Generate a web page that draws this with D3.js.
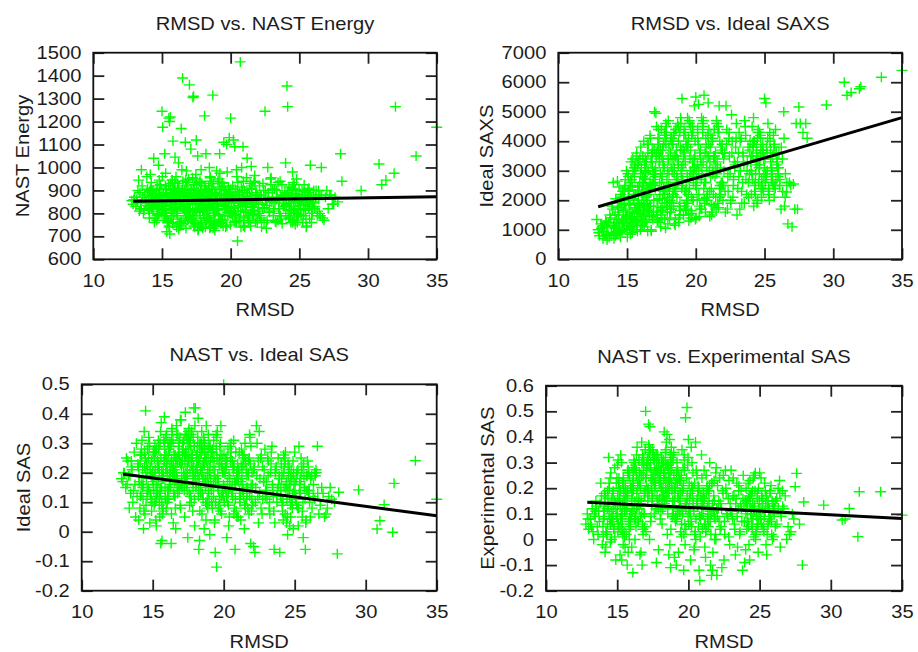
<!DOCTYPE html>
<html>
<head>
<meta charset="utf-8">
<script src="https://cdn.jsdelivr.net/npm/d3@7"></script>
<style>
  body { margin: 0; background: #fff; }
  text { font-family: "Liberation Sans", Arial, Helvetica, sans-serif; font-size: 17.5px; fill: #1c1c1c; }
</style>
</head>
<body>
<div id="chart"></div>
<script>
// RMSD of each model (shared by the four panels), grouped roughly by RMSD band
var rmsd = [
  12.8, 12.9, 13.0, 13.1, 13.25, 13.3, 13.45, 13.5, 13.6, 13.7,
  13.75, 13.85, 13.35, 13.55, 13.9, 13.15, 13.65, 13.4, 13.8, 13.95,
  14.0, 14.1, 14.2, 14.3, 14.4, 14.5, 14.6, 14.7, 14.8, 14.9,
  14.05, 14.25, 14.45, 14.65, 14.85, 14.15, 14.35, 14.55, 14.75, 14.95,
  14.12, 14.32, 14.52, 14.72, 14.92, 14.22, 14.42, 14.62, 14.82, 14.02,
  15.0, 15.1, 15.2, 15.3, 15.4, 15.5, 15.6, 15.7, 15.8, 15.9,
  15.05, 15.15, 15.25, 15.35, 15.45, 15.55, 15.65, 15.75, 15.85, 15.95,
  15.12, 15.32, 15.52, 15.72, 15.92, 15.02, 15.22, 15.42, 15.62, 15.82,
  15.17, 15.37, 15.57, 15.77, 15.97, 15.07, 15.27, 15.47, 15.67, 15.87,
  16.0, 16.1, 16.2, 16.3, 16.4, 16.5, 16.6, 16.7, 16.8, 16.9,
  16.05, 16.15, 16.25, 16.35, 16.45, 16.55, 16.65, 16.75, 16.85, 16.95,
  16.12, 16.32, 16.52, 16.72, 16.92, 16.02, 16.22, 16.42, 16.62, 16.82,
  16.17, 16.37, 16.57, 16.77, 16.97, 16.07, 16.27, 16.47, 16.67, 16.87,
  17.0, 17.1, 17.2, 17.3, 17.4, 17.5, 17.6, 17.7, 17.8, 17.9,
  17.05, 17.15, 17.25, 17.35, 17.45, 17.55, 17.65, 17.75, 17.85, 17.95,
  17.12, 17.32, 17.52, 17.72, 17.92, 17.02, 17.22, 17.42, 17.62, 17.82,
  17.17, 17.37, 17.57, 17.77, 17.97, 17.07, 17.27, 17.47, 17.67, 17.87,
  18.0, 18.1, 18.2, 18.3, 18.4, 18.5, 18.6, 18.7, 18.8, 18.9,
  18.05, 18.15, 18.25, 18.35, 18.45, 18.55, 18.65, 18.75, 18.85, 18.95,
  18.12, 18.32, 18.52, 18.72, 18.92, 18.02, 18.22, 18.42, 18.62, 18.82,
  18.17, 18.37, 18.57, 18.77, 18.97, 18.07, 18.27, 18.47, 18.67, 18.87,
  19.0, 19.1, 19.2, 19.3, 19.4, 19.5, 19.6, 19.7, 19.8, 19.9,
  19.05, 19.15, 19.25, 19.35, 19.45, 19.55, 19.65, 19.75, 19.85, 19.95,
  19.12, 19.32, 19.52, 19.72, 19.92, 19.02, 19.22, 19.42, 19.62, 19.82,
  19.17, 19.37, 19.57, 19.77, 19.97, 19.07, 19.27, 19.47, 19.67, 19.87,
  20.0, 20.1, 20.2, 20.3, 20.4, 20.5, 20.6, 20.7, 20.8, 20.9,
  20.05, 20.15, 20.25, 20.35, 20.45, 20.55, 20.65, 20.75, 20.85, 20.95,
  20.12, 20.32, 20.52, 20.72, 20.92, 20.02, 20.22, 20.42, 20.62, 20.82,
  21.0, 21.1, 21.2, 21.3, 21.4, 21.5, 21.6, 21.7, 21.8, 21.9,
  21.05, 21.15, 21.25, 21.35, 21.45, 21.55, 21.65, 21.75, 21.85, 21.95,
  21.12, 21.32, 21.52, 21.72, 21.92, 21.02, 21.22, 21.42, 21.62, 21.82,
  22.0, 22.1, 22.2, 22.3, 22.4, 22.5, 22.6, 22.7, 22.8, 22.9,
  22.05, 22.15, 22.25, 22.35, 22.45, 22.55, 22.65, 22.75, 22.85, 22.95,
  23.0, 23.1, 23.2, 23.3, 23.4, 23.5, 23.6, 23.7, 23.8, 23.9,
  23.05, 23.15, 23.25, 23.35, 23.45, 23.55, 23.65, 23.75, 23.85, 23.95,
  24.0, 24.1, 24.2, 24.3, 24.4, 24.5, 24.6, 24.7, 24.8, 24.9,
  24.05, 24.15, 24.25, 24.35, 24.45, 24.55, 24.65, 24.75, 24.85, 24.95,
  24.12, 24.32, 24.52, 24.72, 24.92, 24.02, 24.22, 24.42, 24.62, 24.82,
  25.0, 25.1, 25.2, 25.3, 25.4, 25.5, 25.6, 25.7, 25.8, 25.9,
  25.05, 25.15, 25.25, 25.35, 25.45, 25.55, 25.65, 25.75, 25.85, 25.95,
  26.0, 26.1, 26.3, 26.5, 26.8, 26.9, 27.2, 27.4, 26.05, 26.45,
  27.5, 27.6, 28.0, 28.1, 29.5, 30.8, 31.0, 31.3, 32.0, 33.5,
  35.0, 31.9, 26.4, 27.3, 27.8, 26.7, 27.0, 26.6, 27.1, 26.2,
  // second batch, mostly inside the dense core
  14.03, 14.13, 14.23, 14.33, 14.43, 14.53, 14.63, 14.73, 14.83, 14.93,
  14.58, 14.68, 14.78, 14.88, 14.98, 14.48, 14.38, 14.28, 14.18, 14.08,
  15.03, 15.13, 15.23, 15.33, 15.43, 15.53, 15.63, 15.73, 15.83, 15.93,
  15.08, 15.18, 15.28, 15.38, 15.48, 15.58, 15.68, 15.78, 15.88, 15.98,
  15.04, 15.24, 15.44, 15.64, 15.84, 15.14, 15.34, 15.54, 15.74, 15.94,
  16.03, 16.13, 16.23, 16.33, 16.43, 16.53, 16.63, 16.73, 16.83, 16.93,
  16.08, 16.18, 16.28, 16.38, 16.48, 16.58, 16.68, 16.78, 16.88, 16.98,
  16.04, 16.24, 16.44, 16.64, 16.84, 16.14, 16.34, 16.54, 16.74, 16.94,
  17.03, 17.13, 17.23, 17.33, 17.43, 17.53, 17.63, 17.73, 17.83, 17.93,
  17.08, 17.18, 17.28, 17.38, 17.48, 17.58, 17.68, 17.78, 17.88, 17.98,
  17.04, 17.24, 17.44, 17.64, 17.84, 17.14, 17.34, 17.54, 17.74, 17.94,
  18.03, 18.13, 18.23, 18.33, 18.43, 18.53, 18.63, 18.73, 18.83, 18.93,
  18.08, 18.18, 18.28, 18.38, 18.48, 18.58, 18.68, 18.78, 18.88, 18.98,
  18.04, 18.24, 18.44, 18.64, 18.84, 18.14, 18.34, 18.54, 18.74, 18.94,
  19.03, 19.13, 19.23, 19.33, 19.43, 19.53, 19.63, 19.73, 19.83, 19.93,
  19.08, 19.18, 19.28, 19.38, 19.48, 19.58, 19.68, 19.78, 19.88, 19.98,
  20.03, 20.13, 20.23, 20.33, 20.43, 20.53, 20.63, 20.73, 20.83, 20.93,
  20.08, 20.18, 20.28, 20.38, 20.48, 20.58, 20.68, 20.78, 20.88, 20.98,
  21.03, 21.13, 21.23, 21.33, 21.43, 21.53, 21.63, 21.73, 21.83, 21.93,
  21.08, 21.18, 21.28, 21.38, 21.48, 21.58, 21.68, 21.78, 21.88, 21.98,
  22.03, 22.13, 22.23, 22.33, 22.43, 22.53, 22.63, 22.73, 22.83, 22.93,
  23.03, 23.13, 23.23, 23.33, 23.43, 23.53, 23.63, 23.73, 23.83, 23.93,
  24.03, 24.13, 24.23, 24.33, 24.43, 24.53, 24.63, 24.73, 24.83, 24.93,
  24.08, 24.18, 24.28, 24.38, 24.48, 24.58, 24.68, 24.78, 24.88, 24.98,
  25.03, 25.13, 25.23, 25.33, 25.43, 25.53, 25.63, 25.73, 25.83, 25.93,
  25.08, 25.18, 25.28, 25.38, 25.48, 25.58, 25.68, 25.78, 25.88, 25.98,
  26.02, 26.12, 26.22, 26.32, 26.42, 26.52, 26.62, 12.95, 13.2, 13.5
];

var nastEnergy = [
  855, 840, 870, 830, 900, 945, 820, 990, 870, 815,
  880, 845, 810, 920, 960, 860, 800, 890, 835, 905,
  860, 800, 910, 840, 1040, 780, 880, 820, 945, 870,
  830, 890, 760, 920, 850, 970, 810, 875, 1010, 845,
  900, 825, 870, 795, 860, 935, 850, 770, 905, 815,
  1245, 880, 1060, 820, 760, 1215, 1220, 850, 1115, 900,
  1175, 830, 920, 720, 870, 1200, 790, 945, 860, 1045,
  850, 905, 740, 815, 880, 960, 800, 870, 930, 775,
  790, 860, 710, 900, 845, 835, 975, 765, 890, 820,
  880, 810, 1020, 760, 1170, 1390, 850, 1110, 920, 790,
  840, 930, 750, 870, 990, 820, 900, 735, 860, 950,
  800, 870, 940, 780, 845, 960, 730, 890, 815, 880,
  910, 760, 850, 985, 820, 740, 880, 830, 905, 770,
  1360, 1080, 860, 1310, 790, 1120, 1050, 880, 750, 930,
  820, 900, 1305, 760, 950, 840, 730, 875, 990, 810,
  885, 745, 925, 810, 860, 780, 955, 840, 725, 900,
  770, 860, 820, 940, 735, 890, 805, 970, 850, 760,
  870, 1225, 1060, 780, 920, 960, 830, 1315, 890, 750,
  810, 740, 900, 850, 1000, 770, 880, 930, 725, 845,
  865, 800, 955, 735, 880, 820, 760, 905, 840, 790,
  920, 780, 850, 745, 985, 860, 815, 735, 875, 800,
  880, 820, 1060, 760, 930, 1110, 850, 1100, 790, 1130,
  840, 950, 770, 905, 745, 870, 815, 980, 860, 800,
  795, 880, 920, 745, 860, 830, 975, 770, 900, 845,
  915, 760, 835, 880, 800, 940, 755, 865, 820, 890,
  1215, 860, 1120, 1090, 790, 680, 880, 1460, 1000, 1090,
  830, 920, 760, 880, 960, 810, 845, 740, 900, 785,
  870, 795, 935, 850, 745, 905, 820, 990, 770, 860,
  900, 840, 1040, 780, 870, 1005, 810, 940, 760, 880,
  830, 955, 790, 860, 745, 905, 825, 965, 850, 770,
  870, 760, 910, 815, 880, 740, 845, 930, 800, 890,
  860, 920, 780, 840, 900, 1245, 735, 1000, 810, 950,
  800, 875, 740, 930, 825, 860, 770, 890, 850, 955,
  850, 790, 905, 760, 870, 820, 940, 775, 880, 830,
  905, 820, 765, 860, 935, 800, 875, 755, 845, 890,
  1020, 1355, 860, 790, 900, 980, 820, 750, 950, 870,
  840, 1265, 915, 775, 860, 935, 805, 885, 760, 850,
  880, 815, 760, 905, 845, 790, 870, 830, 925, 800,
  860, 820, 900, 790, 870, 740, 840, 910, 1010, 800,
  835, 880, 760, 925, 815, 850, 890, 775, 860, 830,
  850, 820, 790, 880, 770, 870, 880, 840, 900, 800,
  840, 870, 1060, 940, 900, 1015, 925, 945, 1265, 1050,
  1175, 975, 900, 880, 850, 780, 900, 1000, 820, 870,
  850, 875, 820, 900, 840, 865, 790, 880, 830, 910,
  845, 800, 870, 925, 815, 860, 885, 835, 895, 780,
  830, 870, 790, 905, 850, 745, 880, 815, 865, 935,
  880, 805, 860, 770, 920, 840, 885, 755, 825, 895,
  815, 890, 760, 850, 905, 835, 780, 870, 945, 800,
  865, 790, 910, 830, 755, 880, 815, 945, 850, 775,
  800, 885, 840, 765, 900, 825, 870, 790, 935, 855,
  890, 760, 830, 875, 805, 920, 745, 860, 815, 880,
  840, 905, 770, 860, 815, 890, 750, 935, 825, 870,
  795, 855, 910, 740, 880, 820, 865, 780, 900, 835,
  870, 815, 755, 895, 845, 775, 925, 805, 860, 740,
  850, 780, 895, 820, 760, 875, 930, 800, 865, 745,
  905, 825, 770, 860, 800, 940, 845, 755, 885, 815,
  790, 870, 835, 910, 765, 850, 890, 740, 825, 875,
  860, 795, 905, 775, 850, 885, 740, 830, 915, 810,
  820, 880, 760, 935, 840, 790, 870, 805, 895, 750,
  875, 790, 850, 905, 765, 835, 890, 810, 860, 940,
  800, 870, 825, 760, 895, 845, 780, 915, 830, 870,
  850, 805, 890, 770, 865, 920, 795, 840, 880, 760,
  815, 875, 760, 905, 830, 850, 790, 935, 870, 810,
  845, 790, 880, 820, 760, 900, 835, 870, 805, 925,
  870, 810, 845, 900, 770, 855, 790, 925, 830, 880,
  835, 890, 780, 860, 815, 905, 770, 850, 880, 795,
  875, 800, 845, 760, 910, 830, 870, 785, 855, 900,
  850, 790, 880, 815, 860, 745, 905, 830, 870, 800,
  815, 870, 840, 895, 775, 855, 820, 880, 760, 845,
  870, 830, 900, 810, 860, 790, 880, 860, 850, 845
];

var idealSaxs = [
  1350, 1000, 800, 1200, 700, 950, 1300, 850, 1100, 750,
  1500, 900, 1150, 650, 1800, 1050, 1250, 800, 1400, 1700,
  2600, 1200, 850, 2650, 1500, 900, 2000, 1100, 2300, 1700,
  700, 1350, 1900, 1000, 2500, 800, 1600, 2200, 1250, 3000,
  1050, 1750, 750, 2100, 1400, 950, 2450, 1300, 1850, 1150,
  1000, 2800, 1600, 3300, 900, 2200, 1300, 3600, 1900, 2500,
  1400, 2100, 850, 2700, 1200, 3100, 1750, 950, 2350, 1550,
  2000, 1100, 3000, 1450, 2600, 750, 1850, 3400, 1250, 2250,
  1150, 2450, 1700, 3200, 1000, 2900, 1350, 2050, 3500, 1600,
  3800, 1200, 2600, 1700, 3300, 950, 2200, 4100, 1450, 2900,
  1900, 3500, 1100, 2700, 1600, 3900, 2350, 1000, 3100, 2000,
  2500, 1300, 3600, 1800, 2900, 1150, 4000, 2150, 1500, 3300,
  1650, 3000, 2400, 950, 3700, 1350, 2750, 1900, 4200, 2550,
  5000, 4950, 1300, 3800, 2200, 4400, 1700, 3100, 1050, 2700,
  2400, 1500, 4100, 3300, 1100, 2800, 3900, 1900, 4500, 2100,
  3500, 1250, 2600, 4300, 1800, 3000, 1400, 3700, 2300, 4600,
  1600, 3400, 2050, 4000, 1200, 2900, 3600, 1750, 2450, 4200,
  4700, 1400, 3200, 2100, 4300, 1150, 3700, 2600, 1800, 4800,
  2900, 1600, 4100, 2300, 1200, 3500, 2700, 4500, 1900, 3100,
  2000, 3900, 1350, 3300, 4600, 2500, 1700, 4200, 2800, 1500,
  3600, 2200, 4400, 1250, 3000, 1900, 4000, 2400, 3400, 1650,
  5450, 1500, 3600, 2400, 4800, 1300, 3000, 4200, 2000, 5200,
  2700, 4400, 1700, 3800, 2200, 4600, 1400, 3300, 2900, 4000,
  3500, 2000, 4700, 1550, 3100, 2500, 4300, 1900, 3700, 2600,
  1800, 3900, 2800, 4500, 1350, 3200, 2300, 4100, 1650, 3400,
  5500, 2000, 5250, 3600, 2700, 4300, 5560, 1600, 3100, 5300,
  2400, 4100, 1450, 3400, 2900, 4700, 1900, 3800, 2200, 4400,
  3200, 1700, 4500, 2600, 3900, 1400, 3000, 4800, 2050, 3500,
  2300, 4200, 1600, 3500, 2800, 4700, 1900, 5200, 3100, 2500,
  3800, 1500, 3000, 4400, 2100, 3300, 1750, 4000, 2600, 3600,
  1850, 3400, 4600, 2400, 3900, 1450, 2900, 3200, 4300, 2200,
  2500, 3600, 5200, 1700, 4100, 2900, 4900, 2100, 3300, 3800,
  3000, 1600, 4400, 2300, 3500, 1900, 4000, 2700, 3200, 4600,
  1500, 3600, 1700, 4100, 2600, 3200, 4500, 2200, 3800, 2900,
  2400, 4300, 3000, 1900, 3500, 4700, 2700, 3300, 2100, 4000,
  3300, 4500, 4800, 2500, 3800, 2000, 3100, 4200, 2700, 3600,
  2200, 3500, 4000, 2900, 1900, 4400, 3200, 2400, 3700, 2800,
  3900, 2600, 3400, 4100, 2300, 3000, 1800, 3600, 4300, 2500,
  5450, 5300, 3000, 2400, 4000, 2700, 3500, 2100, 4400, 3200,
  2600, 3800, 4600, 2000, 3300, 2900, 4200, 2500, 3600, 3100,
  2900, 2500, 3400, 2100, 2600, 2500, 1700, 1700, 3600, 1800,
  5160, 4600, 4600, 4100, 5230, 6000, 5560, 5650, 5850, 6170,
  6400, 5780, 5000, 4600, 4300, 1200, 1100, 2280, 2550, 1700,
  1100, 1500, 850, 1900, 1250, 2100, 950, 1650, 2400, 1350,
  1800, 2300, 1000, 2700, 1450, 1200, 1700, 900, 2050, 1150,
  1200, 1900, 2500, 1000, 3000, 1550, 2200, 1300, 3300, 1750,
  2300, 1050, 2700, 1600, 2000, 3200, 1150, 2450, 1800, 2900,
  1500, 2600, 1100, 3100, 1850, 2350, 1400, 2800, 1650, 3400,
  1400, 2800, 2000, 3400, 1250, 3000, 1800, 2500, 3700, 1600,
  2300, 1500, 3200, 2100, 3900, 1700, 2600, 3500, 1350, 2900,
  3100, 1850, 2450, 1450, 3600, 2150, 2950, 1650, 3300, 2700,
  2500, 3600, 1800, 4100, 2900, 1400, 3300, 2200, 3900, 1600,
  3100, 2000, 4400, 2600, 1500, 3700, 2350, 4200, 1900, 3400,
  2800, 3900, 1650, 3200, 2400, 4500, 2050, 3500, 1350, 3000,
  3400, 2500, 1700, 3900, 2900, 4400, 2100, 3200, 1500, 3700,
  2200, 4100, 3000, 1800, 3500, 2600, 4600, 1400, 3800, 2400,
  3800, 1900, 3100, 2700, 4300, 1600, 3400, 2300, 4000, 2900,
  2600, 4200, 3300, 1700, 3800, 2400, 4500, 2900, 2000, 3500,
  3700, 2300, 4000, 2800, 1500, 3400, 2100, 4300, 3100, 2500,
  3000, 4400, 2200, 3700, 1700, 3300, 2600, 4100, 2000, 3500,
  2700, 3900, 1800, 3200, 4600, 2400, 3600, 2100, 4200, 3000,
  3300, 2400, 4100, 1800, 3600, 2900, 4500, 2100, 3800, 2600,
  2800, 4000, 2200, 3500, 1700, 3100, 4300, 2500, 3700, 2000,
  3400, 2300, 3900, 2800, 4300, 2000, 3600, 2500, 3100, 4100,
  3300, 2800, 4000, 2300, 3600, 1900, 4200, 3000, 2600, 3700,
  3500, 2700, 4000, 2200, 3200, 4300, 2900, 3700, 2400, 3400,
  2900, 3800, 2300, 3300, 4100, 2600, 3500, 2100, 3900, 3100,
  3400, 2800, 4100, 2300, 3700, 3000, 2500, 3900, 2700, 3300,
  2900, 3600, 2200, 4300, 3100, 2600, 3800, 2400, 3400, 2800,
  3100, 2700, 3800, 2300, 4100, 2900, 2600, 900, 1100, 1250
];

var idealSas = [
  0.18, 0.17, 0.2, 0.15, 0.24, 0.19, 0.13, 0.22, 0.1, 0.27,
  0.16, 0.3, 0.08, 0.21, 0.12, 0.25, 0.14, 0.19, 0.05, 0.23,
  0.22, 0.08, 0.28, 0.15, 0.34, 0.41, 0.12, 0.25, 0.03, 0.19,
  0.17, 0.31, 0.06, 0.21, 0.13, 0.26, 0.01, 0.18, 0.29, 0.1,
  0.24, 0.11, 0.2, 0.32, 0.07, 0.16, 0.27, 0.14, 0.22, 0.04,
  0.2, 0.09, 0.27, 0.14, 0.31, 0.05, 0.37, 0.18, 0.24, 0.11,
  0.16, 0.29, 0.02, 0.22, 0.12, 0.34, -0.03, 0.19, 0.26, 0.08,
  0.25, 0.13, 0.3, 0.07, 0.21, 0.17, 0.04, 0.28, 0.15, 0.39,
  0.1, 0.23, -0.04, 0.18, 0.33, 0.27, 0.12, 0.2, 0.06, 0.15,
  0.22, 0.14, 0.3, -0.04, 0.19, 0.26, 0.08, 0.33, 0.16, 0.24,
  0.11, 0.28, 0.2, 0.35, 0.03, 0.17, 0.25, 0.13, 0.3, 0.38,
  0.27, 0.06, 0.21, 0.15, 0.32, 0.1, 0.23, 0.18, 0.01, 0.29,
  0.19, 0.34, 0.12, 0.25, 0.08, 0.3, 0.16, 0.22, 0.36, 0.14,
  0.38, 0.24, 0.31, 0.405, 0.17, 0.28, 0.09, 0.33, 0.21, 0.42,
  0.15, 0.3, 0.05, 0.26, 0.19, 0.35, 0.12, 0.23, 0.32, 0.02,
  0.27, 0.18, 0.34, 0.1, 0.29, 0.22, 0.14, 0.31, 0.25, 0.07,
  0.2, 0.33, 0.13, 0.26, 0.36, 0.16, 0.24, -0.02, 0.29, 0.19,
  0.42, 0.22, 0.385, -0.03, 0.27, 0.13, 0.31, 0.18, 0.09, 0.25,
  0.16, 0.3, -0.06, 0.21, 0.34, 0.11, 0.26, 0.04, 0.19, 0.29,
  0.24, 0.07, 0.28, 0.15, 0.33, 0.2, 0.12, 0.27, 0.01, 0.17,
  0.32, 0.14, 0.23, 0.36, 0.1, 0.26, 0.18, 0.06, 0.3, 0.21,
  0.2, 0.27, 0.08, 0.31, -0.07, -0.12, 0.16, 0.24, 0.36, 0.13,
  0.29, 0.1, 0.22, 0.03, 0.18, 0.34, 0.14, 0.26, 0.06, 0.2,
  0.15, 0.25, 0.32, 0.11, 0.21, -0.01, 0.28, 0.17, 0.08, 0.23,
  0.27, 0.04, 0.19, 0.3, 0.12, 0.24, 0.16, 0.33, 0.09, 0.22,
  0.5, 0.2, 0.12, 0.28, 0.05, 0.24, 0.16, 0.31, -0.06, 0.18,
  0.1, 0.25, 0.17, 0.02, 0.29, 0.14, 0.22, 0.08, 0.27, 0.19,
  0.23, 0.13, 0.3, 0.06, 0.2, 0.26, -0.02, 0.15, 0.24, 0.11,
  0.18, 0.27, 0.04, 0.22, 0.12, 0.3, 0.15, 0.08, 0.25, -0.04,
  0.21, 0.1, 0.28, 0.16, 0.01, 0.24, 0.13, 0.19, 0.32, 0.07,
  0.14, 0.26, 0.09, 0.2, 0.29, 0.05, 0.17, 0.23, 0.11, 0.33,
  0.2, -0.05, -0.07, 0.36, 0.12, 0.34, 0.25, 0.06, 0.17, 0.28,
  0.09, 0.22, 0.15, 0.3, 0.03, 0.18, 0.26, 0.11, 0.21, 0.14,
  0.17, 0.25, 0.08, 0.2, 0.29, 0.12, 0.03, 0.22, 0.14, 0.19,
  0.11, 0.24, 0.06, 0.27, 0.15, -0.06, 0.2, 0.1, 0.16, -0.07,
  0.12, 0.2, 0.04, 0.25, 0.16, -0.01, 0.22, 0.09, 0.18, 0.01,
  0.23, 0.07, 0.15, 0.27, 0.11, 0.19, 0.02, 0.21, 0.13, 0.17,
  0.09, 0.24, 0.14, 0.05, 0.2, 0.12, 0.26, 0.03, 0.16, 0.1,
  0.27, 0.18, 0.08, 0.29, 0.13, 0.21, -0.02, 0.15, 0.04, 0.24,
  0.11, 0.2, 0.02, 0.16, 0.25, 0.07, 0.19, -0.06, 0.14, 0.22,
  0.2, 0.05, 0.12, 0.21, 0.09, 0.15, 0.06, 0.12, 0.1, 0.19,
  0.15, 0.11, -0.075, 0.134, 0.142, 0.009, 0.037, 0.092, 0.164, 0.241,
  0.11, -0.002, 0.2, 0.08, 0.1, 0.06, 0.13, 0.29, 0.05, 0.19,
  0.19, 0.12, 0.26, 0.16, 0.22, 0.09, 0.28, 0.14, 0.2, 0.24,
  0.23, 0.15, 0.3, 0.11, 0.18, 0.25, 0.07, 0.21, 0.13, 0.17,
  0.18, 0.26, 0.11, 0.22, 0.29, 0.15, 0.2, 0.08, 0.24, 0.32,
  0.14, 0.21, 0.28, 0.17, 0.09, 0.25, 0.19, 0.31, 0.12, 0.23,
  0.27, 0.16, 0.22, 0.1, 0.3, 0.19, 0.24, 0.13, 0.2, 0.26,
  0.2, 0.28, 0.15, 0.24, 0.31, 0.12, 0.22, 0.18, 0.27, 0.09,
  0.25, 0.17, 0.3, 0.21, 0.13, 0.26, 0.19, 0.33, 0.16, 0.23,
  0.14, 0.29, 0.22, 0.18, 0.26, 0.11, 0.31, 0.2, 0.24, 0.16,
  0.23, 0.3, 0.19, 0.27, 0.14, 0.32, 0.21, 0.25, 0.17, 0.29,
  0.28, 0.2, 0.33, 0.16, 0.24, 0.3, 0.12, 0.26, 0.22, 0.18,
  0.18, 0.26, 0.22, 0.31, 0.15, 0.28, 0.2, 0.24, 0.34, 0.11,
  0.21, 0.27, 0.14, 0.25, 0.3, 0.18, 0.23, 0.1, 0.28, 0.16,
  0.26, 0.19, 0.29, 0.13, 0.22, 0.32, 0.17, 0.24, 0.08, 0.2,
  0.15, 0.24, 0.2, 0.28, 0.11, 0.22, 0.3, 0.18, 0.25, 0.13,
  0.22, 0.14, 0.27, 0.19, 0.1, 0.25, 0.17, 0.29, 0.12, 0.2,
  0.18, 0.25, 0.12, 0.21, 0.28, 0.15, 0.23, 0.07, 0.26, 0.16,
  0.2, 0.14, 0.24, 0.09, 0.18, 0.27, 0.12, 0.22, 0.16, 0.05,
  0.15, 0.22, 0.1, 0.19, 0.25, 0.13, 0.21, 0.17, 0.07, 0.23,
  0.17, 0.11, 0.22, 0.14, 0.26, 0.08, 0.19, 0.24, 0.12, 0.16,
  0.2, 0.13, 0.18, 0.25, 0.09, 0.21, 0.15, 0.06, 0.23, 0.11,
  0.16, 0.21, 0.1, 0.19, 0.24, 0.13, 0.08, 0.22, 0.17, 0.12,
  0.14, 0.19, 0.1, 0.23, 0.16, 0.07, 0.21, 0.12, 0.25, 0.18,
  0.15, 0.1, 0.2, 0.06, 0.17, 0.23, 0.12, 0.19, 0.08, 0.14,
  0.18, 0.11, 0.22, 0.14, 0.05, 0.2, 0.16, 0.1, 0.24, 0.13,
  0.16, 0.09, 0.21, 0.13, 0.18, 0.05, 0.23, 0.11, 0.19, 0.14,
  0.12, 0.2, 0.08, 0.17, 0.22, 0.1, 0.15, 0.03, 0.19, 0.13,
  0.14, 0.18, 0.08, 0.16, 0.11, 0.2, 0.13, 0.2, 0.16, 0.24
];

var expSas = [
  0.06, 0.1, 0.04, 0.08, 0.12, 0.03, 0.09, 0.15, 0.05, 0.11,
  0.07, 0.22, 0.0, 0.13, 0.17, 0.06, 0.02, 0.1, 0.14, -0.02,
  0.05, 0.18, -0.03, 0.12, 0.32, 0.24, 0.0, 0.09, 0.15, -0.08,
  0.11, 0.02, 0.2, 0.07, 0.14, -0.05, 0.16, 0.26, 0.04, 0.09,
  0.13, 0.06, -0.01, 0.19, 0.1, 0.03, 0.22, 0.08, 0.28, 0.01,
  0.08, 0.22, -0.06, 0.3, 0.14, 0.01, 0.18, -0.1, 0.26, 0.1,
  0.03, 0.16, 0.33, 0.06, 0.2, -0.03, 0.12, 0.27, 0.0, 0.09,
  0.24, -0.08, 0.11, 0.19, 0.05, 0.29, 0.13, -0.02, 0.17, 0.07,
  0.15, 0.02, 0.21, -0.05, 0.1, 0.31, 0.04, 0.18, 0.12, 0.25,
  0.2, -0.13, 0.3, 0.09, 0.36, 0.15, -0.06, 0.25, 0.04, 0.18,
  0.11, 0.27, 0.0, 0.33, 0.07, 0.22, 0.14, -0.1, 0.29, 0.19,
  0.24, 0.05, 0.16, 0.38, 0.1, -0.03, 0.28, 0.13, 0.21, 0.02,
  0.31, 0.12, 0.26, 0.06, 0.35, 0.18, 0.08, 0.23, -0.05, 0.3,
  0.5, 0.3, 0.45, 0.44, 0.21, 0.34, 0.1, 0.26, 0.17, -0.04,
  0.28, 0.15, 0.36, 0.07, 0.24, 0.31, 0.19, -0.09, 0.33, 0.22,
  0.18, 0.35, 0.25, 0.12, 0.29, 0.03, 0.37, 0.2, 0.27, 0.14,
  0.32, 0.09, 0.23, 0.3, 0.16, 0.27, 0.0, 0.35, 0.21, 0.26,
  0.25, 0.32, 0.12, 0.42, 0.2, 0.41, 0.29, -0.02, 0.36, 0.15,
  0.22, 0.06, 0.3, 0.17, 0.38, 0.1, 0.26, -0.11, 0.19, 0.33,
  0.28, 0.14, 0.02, 0.24, 0.31, 0.08, 0.2, 0.35, -0.06, 0.27,
  0.16, 0.3, 0.23, 0.04, 0.34, 0.11, 0.26, 0.18, 0.39, 0.09,
  0.2, 0.07, 0.3, -0.05, 0.15, 0.25, 0.1, 0.33, 0.475, 0.515,
  0.18, -0.1, 0.27, 0.12, 0.03, 0.35, 0.21, 0.06, 0.14, 0.29,
  0.09, 0.24, 0.01, 0.31, 0.16, -0.07, 0.22, 0.13, 0.28, 0.04,
  0.26, 0.11, 0.19, -0.02, 0.32, 0.08, 0.17, 0.23, -0.12, 0.14,
  0.39, 0.1, 0.36, 0.2, -0.04, 0.38, 0.25, 0.05, -0.16, 0.15,
  0.22, -0.08, 0.3, 0.13, 0.02, 0.27, 0.17, -0.12, 0.08, 0.24,
  0.11, 0.26, 0.0, 0.19, 0.33, 0.06, 0.21, -0.03, 0.16, 0.09,
  0.14, 0.27, -0.07, 0.2, 0.05, 0.3, 0.1, -0.12, 0.23, 0.02,
  0.18, -0.03, 0.25, 0.08, 0.15, -0.1, 0.22, 0.12, 0.0, 0.28,
  0.06, 0.21, 0.11, -0.05, 0.26, 0.16, 0.03, 0.19, -0.14, 0.09,
  -0.14, 0.12, 0.24, 0.05, 0.19, -0.08, 0.27, 0.1, 0.16, -0.02,
  0.21, 0.07, 0.14, -0.11, 0.25, 0.02, 0.18, 0.09, 0.23, 0.11,
  0.27, 0.08, 0.17, -0.06, 0.22, 0.12, 0.02, 0.19, -0.12, 0.14,
  0.1, 0.24, 0.04, 0.16, -0.03, 0.21, 0.13, 0.07, 0.25, -0.09,
  0.15, 0.04, 0.22, -0.08, 0.12, 0.19, 0.01, 0.26, 0.09, -0.05,
  0.2, 0.11, -0.02, 0.17, 0.06, 0.24, 0.13, 0.03, 0.18, 0.08,
  0.07, 0.23, 0.14, 0.0, 0.2, -0.04, 0.16, 0.1, 0.25, 0.05,
  0.26, 0.24, 0.12, 0.03, 0.19, -0.06, 0.15, 0.08, 0.21, 0.0,
  0.1, 0.17, 0.05, 0.22, -0.02, 0.13, 0.07, 0.19, 0.02, 0.11,
  0.14, 0.05, 0.2, 0.1, 0.17, 0.0, 0.03, 0.08, 0.12, -0.03,
  0.206, 0.258, -0.1, 0.146, 0.134, 0.076, 0.08, 0.121, 0.186, 0.186,
  0.095, 0.011, 0.23, 0.1, 0.06, 0.12, 0.05, 0.19, 0.02, 0.16,
  0.08, 0.14, 0.03, 0.19, 0.1, 0.06, 0.16, 0.12, 0.01, 0.22,
  0.11, 0.18, 0.05, 0.14, 0.24, 0.08, 0.13, 0.02, 0.17, 0.09,
  0.12, 0.05, 0.19, 0.09, 0.24, 0.14, 0.02, 0.17, 0.07, 0.21,
  0.06, 0.15, 0.1, 0.22, 0.03, 0.18, 0.13, 0.27, 0.08, 0.2,
  0.17, 0.08, 0.23, 0.12, 0.04, 0.2, 0.1, 0.15, 0.26, 0.06,
  0.16, 0.23, 0.08, 0.27, 0.13, 0.31, 0.2, 0.1, 0.25, 0.05,
  0.22, 0.12, 0.29, 0.18, 0.07, 0.26, 0.15, 0.33, 0.1, 0.24,
  0.28, 0.15, 0.21, 0.09, 0.32, 0.19, 0.25, 0.12, 0.3, 0.17,
  0.24, 0.31, 0.18, 0.28, 0.13, 0.33, 0.22, 0.27, 0.15, 0.3,
  0.29, 0.2, 0.34, 0.25, 0.16, 0.31, 0.22, 0.27, 0.12, 0.24,
  0.21, 0.28, 0.17, 0.32, 0.26, 0.19, 0.3, 0.23, 0.33, 0.14,
  0.27, 0.2, 0.31, 0.15, 0.24, 0.29, 0.18, 0.33, 0.22, 0.12,
  0.19, 0.3, 0.24, 0.34, 0.16, 0.27, 0.21, 0.28, 0.13, 0.25,
  0.23, 0.17, 0.29, 0.22, 0.32, 0.14, 0.26, 0.2, 0.3, 0.1,
  0.15, 0.22, 0.1, 0.25, 0.18, 0.06, 0.2, 0.27, 0.12, 0.17,
  0.2, 0.08, 0.16, 0.23, 0.11, 0.19, 0.02, 0.14, 0.24, 0.09,
  0.12, 0.18, 0.05, 0.15, 0.22, 0.08, 0.13, 0.2, 0.01, 0.1,
  0.16, 0.07, 0.19, 0.11, 0.03, 0.14, 0.21, 0.09, 0.17, 0.04,
  0.1, 0.16, 0.04, 0.13, 0.19, 0.07, 0.22, 0.11, 0.15, 0.0,
  0.13, 0.06, 0.18, 0.09, 0.21, 0.02, 0.14, 0.17, 0.08, 0.12,
  0.09, 0.15, 0.04, 0.12, 0.18, 0.07, 0.2, 0.1, 0.01, 0.14,
  0.11, 0.17, 0.06, 0.14, 0.09, 0.19, 0.03, 0.12, 0.16, 0.07,
  0.1, 0.15, 0.05, 0.13, 0.18, 0.08, 0.11, 0.02, 0.16, 0.12,
  0.14, 0.07, 0.17, 0.1, 0.04, 0.12, 0.19, 0.09, 0.06, 0.15,
  0.12, 0.06, 0.16, 0.09, 0.14, 0.02, 0.11, 0.18, 0.07, 0.13,
  0.08, 0.14, 0.04, 0.11, 0.17, 0.06, 0.12, 0.09, 0.15, 0.01,
  0.1, 0.15, 0.06, 0.12, 0.18, 0.09, 0.13, 0.08, 0.05, 0.11
];

// fitted straight lines (end points)
var fitRmsd = [12.9, 35];
var fitEnergy = [853, 872];
var fitSaxs = [1780, 4800];
var fitIdealSas = [0.196, 0.054];
var fitExpSas = [0.145, 0.082];

// tick labels
var xTicks = [10, 15, 20, 25, 30, 35];
var energyTicks = [600, 700, 800, 900, 1000, 1100, 1200, 1300, 1400, 1500];
var saxsTicks = [0, 1000, 2000, 3000, 4000, 5000, 6000, 7000];
var idealSasTicks = [-0.2, -0.1, 0, 0.1, 0.2, 0.3, 0.4, 0.5];
var expSasTicks = [-0.2, -0.1, 0, 0.1, 0.2, 0.3, 0.4, 0.5, 0.6];

var width = 918, height = 652,
    stretch = 1.15,       // text is drawn a little wide
    crossW = 5.5, crossH = 5,
    tickLen = 11,
    green = '#00ff00';

var svg = d3.select('#chart').append('svg')
    .attr('width', width)
    .attr('height', height);

var panels = [
  {title: 'RMSD vs. NAST Energy', ylabel: 'NAST Energy', ys: nastEnergy, yTicks: energyTicks, fit: fitEnergy,
   box: [93.3, 52.7, 436.7, 259.3], labOff: 64},
  {title: 'RMSD vs. Ideal SAXS', ylabel: 'Ideal SAXS', ys: idealSaxs, yTicks: saxsTicks, fit: fitSaxs,
   box: [558.3, 52.7, 902, 259.3], labOff: 65},
  {title: 'NAST vs. Ideal SAS', ylabel: 'Ideal SAS', ys: idealSas, yTicks: idealSasTicks, fit: fitIdealSas,
   box: [81.7, 384.3, 436.7, 590.7], labOff: 52},
  {title: 'NAST vs. Experimental SAS', ylabel: 'Experimental SAS', ys: expSas, yTicks: expSasTicks, fit: fitExpSas,
   box: [546, 385.7, 902, 590.7], labOff: 52.5}
];

var fmt = function (d) { return String(d); };

panels.forEach(function (p) {
  var L = p.box[0], T = p.box[1], R = p.box[2], B = p.box[3];

  var scale_x = d3.scaleLinear().domain(d3.extent(xTicks)).range([L, R]);
  var scale_y = d3.scaleLinear().domain(d3.extent(p.yTicks)).range([B, T]);

  var g = svg.append('g');

  // points as "+" marks
  var n = Math.min(rmsd.length, p.ys.length);
  var pts = d3.range(n).map(function (i) { return [rmsd[i], p.ys[i]]; });

  g.append('g').selectAll('path')
    .data(pts)
    .join('path')
    .attr('d', function (d) {
      var cx = scale_x(d[0]), cy = scale_y(d[1]);
      return 'M' + (cx - crossW) + ',' + cy + 'H' + (cx + crossW) +
             'M' + cx + ',' + (cy - crossH) + 'V' + (cy + crossH);
    })
    .attr('fill', 'none')
    .attr('stroke', green)
    .attr('stroke-width', 1.4);

  // fitted line
  var line = d3.line()
    .x(function (d) { return scale_x(d[0]); })
    .y(function (d) { return scale_y(d[1]); });
  g.append('path')
    .attr('d', line(fitRmsd.map(function (v, i) { return [v, p.fit[i]]; })))
    .attr('fill', 'none')
    .attr('stroke', '#000')
    .attr('stroke-width', 3);

  // axes, ticks point inward on all four sides
  var bottom = g.append('g')
    .attr('transform', 'translate(0,' + B + ')')
    .call(d3.axisBottom(scale_x).tickValues(xTicks).tickSize(-tickLen).tickPadding(15).tickFormat(fmt));
  var top = g.append('g')
    .attr('transform', 'translate(0,' + T + ')')
    .call(d3.axisTop(scale_x).tickValues(xTicks).tickSize(-tickLen).tickFormat(''));
  var left = g.append('g')
    .attr('transform', 'translate(' + L + ',0)')
    .call(d3.axisLeft(scale_y).tickValues(p.yTicks).tickSize(-tickLen).tickPadding(10.4).tickFormat(fmt));
  var right = g.append('g')
    .attr('transform', 'translate(' + R + ',0)')
    .call(d3.axisRight(scale_y).tickValues(p.yTicks).tickSize(-tickLen).tickFormat(''));

  [bottom, top, left, right].forEach(function (a) {
    a.select('.domain').remove();
    a.selectAll('line').attr('stroke', '#222').attr('stroke-width', 1.8);
    a.selectAll('text').attr('transform', 'scale(' + stretch + ',1)');
  });

  // frame
  g.append('rect')
    .attr('x', L).attr('y', T)
    .attr('width', R - L).attr('height', B - T)
    .attr('fill', 'none')
    .attr('stroke', '#111')
    .attr('stroke-width', 1.8);

  // title and axis names
  g.append('text')
    .attr('transform', 'translate(' + (L + R) / 2 + ',' + (T - 23) + ') scale(' + stretch + ',1)')
    .attr('text-anchor', 'middle')
    .text(p.title);

  g.append('text')
    .attr('transform', 'translate(' + (L + R) / 2 + ',' + (B + 57) + ') scale(' + stretch + ',1)')
    .attr('text-anchor', 'middle')
    .text('RMSD');

  g.append('text')
    .attr('transform', 'translate(' + (L - p.labOff) + ',' + (T + B) / 2 + ') rotate(-90) scale(' + stretch + ',1)')
    .attr('text-anchor', 'middle')
    .text(p.ylabel);
});
</script>
</body>
</html>
